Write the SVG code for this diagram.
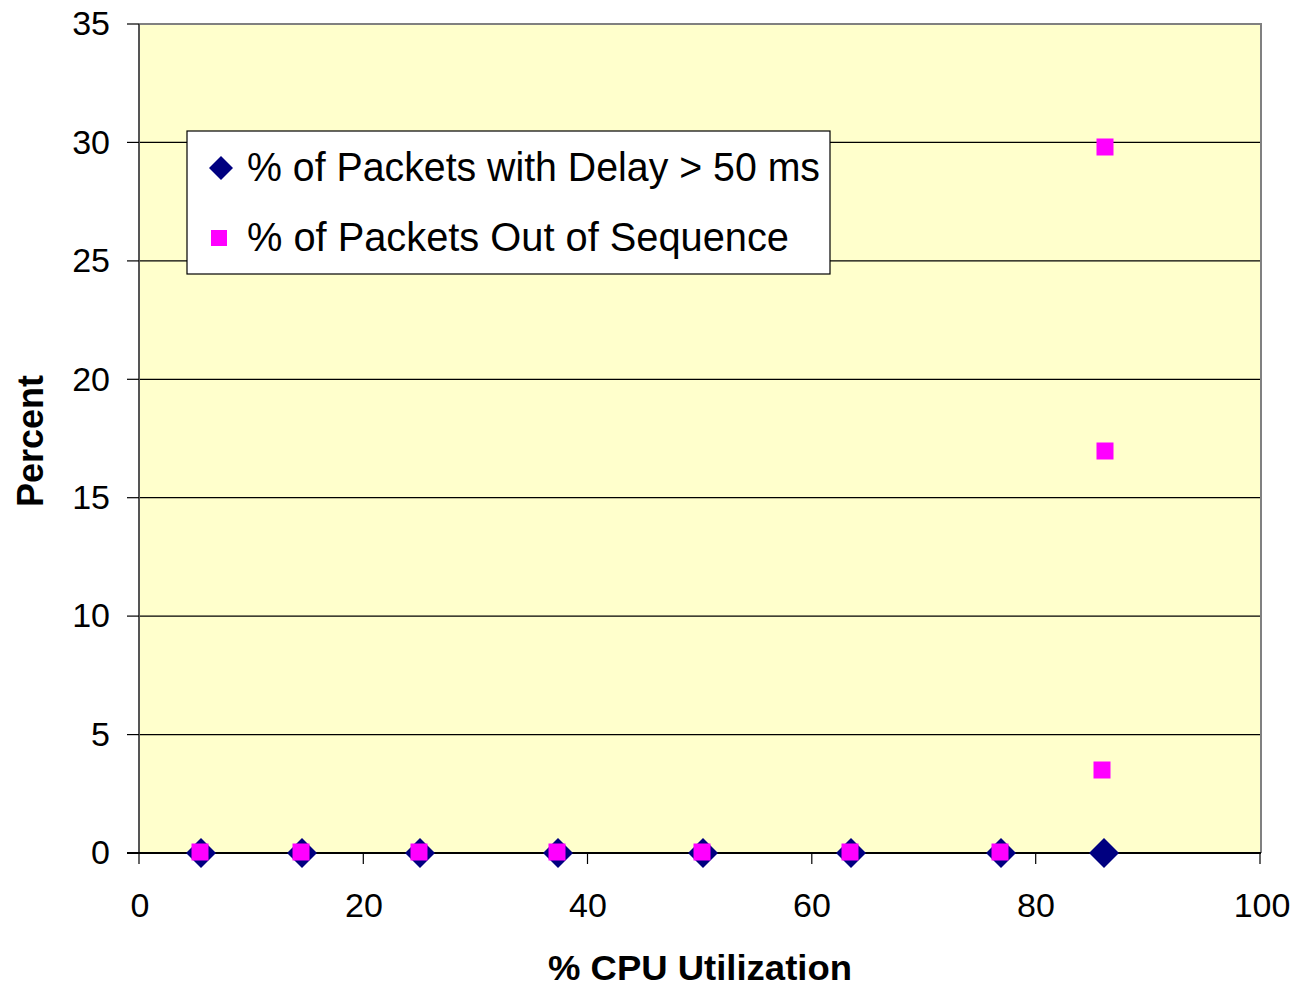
<svg xmlns="http://www.w3.org/2000/svg" width="1296" height="988" viewBox="0 0 1296 988">
  <style>
    .tick { font-family: "Liberation Sans", Arial, sans-serif; font-size: 34px; fill: #000; }
    .title { font-family: "Liberation Sans", Arial, sans-serif; font-size: 36px; font-weight: bold; fill: #000; }
    .xtitle { font-size: 35px; }
    .legtext { font-family: "Liberation Sans", Arial, sans-serif; font-size: 40px; fill: #000; }
    .grid { stroke: #000; stroke-width: 1.2; }
    .tk { stroke: #000; stroke-width: 1.2; }
    .dia { fill: #000080; }
    .sq { fill: #FF00FF; }
  </style>
  <defs>
    <path id="diamond" d="M0,-15 L15,0 L0,15 L-15,0 Z"/>
    <rect id="square" x="-8.5" y="-8.5" width="17" height="17"/>
  </defs>
  <rect width="1296" height="988" fill="#fff"/>

  <!-- plot area -->
  <g id="plot">
    <rect x="139" y="24" width="1122" height="829" fill="#FFFFCC"/>
    <g class="grid">
      <line x1="139" y1="142.4" x2="1261" y2="142.4"/>
      <line x1="139" y1="260.9" x2="1261" y2="260.9"/>
      <line x1="139" y1="379.3" x2="1261" y2="379.3"/>
      <line x1="139" y1="497.7" x2="1261" y2="497.7"/>
      <line x1="139" y1="616.1" x2="1261" y2="616.1"/>
      <line x1="139" y1="734.6" x2="1261" y2="734.6"/>
    </g>
    <!-- frame: top/right grey, left axis, bottom axis -->
    <polyline points="139,24 1261,24 1261,853" fill="none" stroke="#808080" stroke-width="2"/>
    <line x1="139" y1="24" x2="139" y2="853" stroke="#555" stroke-width="2"/>
    <line x1="127" y1="853" x2="1261" y2="853" stroke="#000" stroke-width="2"/>
  </g>

  <!-- axes ticks and labels -->
  <g id="y-axis">
    <g class="tk">
      <line x1="127" y1="24" x2="139" y2="24"/>
      <line x1="127" y1="142.4" x2="139" y2="142.4"/>
      <line x1="127" y1="260.9" x2="139" y2="260.9"/>
      <line x1="127" y1="379.3" x2="139" y2="379.3"/>
      <line x1="127" y1="497.7" x2="139" y2="497.7"/>
      <line x1="127" y1="616.1" x2="139" y2="616.1"/>
      <line x1="127" y1="734.6" x2="139" y2="734.6"/>
    </g>
    <g class="tick" text-anchor="end">
      <text x="110" y="35">35</text>
      <text x="110" y="154">30</text>
      <text x="110" y="272">25</text>
      <text x="110" y="391">20</text>
      <text x="110" y="509">15</text>
      <text x="110" y="627">10</text>
      <text x="110" y="746">5</text>
      <text x="110" y="864">0</text>
    </g>
    <text class="title" transform="translate(43,441) rotate(-90)" text-anchor="middle">Percent</text>
  </g>

  <g id="x-axis">
    <g class="tk">
      <line x1="139" y1="853" x2="139" y2="864"/>
      <line x1="363.3" y1="853" x2="363.3" y2="864"/>
      <line x1="587.5" y1="853" x2="587.5" y2="864"/>
      <line x1="811.8" y1="853" x2="811.8" y2="864"/>
      <line x1="1035.7" y1="853" x2="1035.7" y2="864"/>
      <line x1="1260" y1="853" x2="1260" y2="864"/>
    </g>
    <g class="tick" text-anchor="middle">
      <text x="140" y="917">0</text>
      <text x="364" y="917">20</text>
      <text x="588" y="917">40</text>
      <text x="812" y="917">60</text>
      <text x="1036" y="917">80</text>
      <text x="1262" y="917">100</text>
    </g>
    <text class="title xtitle" x="548" y="980" textLength="304" lengthAdjust="spacingAndGlyphs">% CPU Utilization</text>
  </g>

  <!-- series: packets with delay > 50 ms -->
  <g id="series-delay" class="dia">
    <use href="#diamond" x="201" y="853"/>
    <use href="#diamond" x="302" y="853"/>
    <use href="#diamond" x="420" y="853"/>
    <use href="#diamond" x="558" y="853"/>
    <use href="#diamond" x="703" y="853"/>
    <use href="#diamond" x="851" y="853"/>
    <use href="#diamond" x="1001" y="853"/>
    <use href="#diamond" x="1104" y="853"/>
  </g>

  <!-- series: packets out of sequence -->
  <g id="series-sequence" class="sq">
    <use href="#square" x="200" y="852"/>
    <use href="#square" x="301" y="852"/>
    <use href="#square" x="419" y="852"/>
    <use href="#square" x="557" y="852"/>
    <use href="#square" x="702" y="852"/>
    <use href="#square" x="850" y="852"/>
    <use href="#square" x="1000" y="852"/>
    <use href="#square" x="1102" y="770"/>
    <use href="#square" x="1105" y="451"/>
    <use href="#square" x="1105" y="147"/>
  </g>

  <!-- legend -->
  <g id="legend">
    <rect x="187" y="131" width="643" height="143" fill="#fff" stroke="#000" stroke-width="1.2"/>
    <path d="M221,156 L233,168 L221,180 L209,168 Z" class="dia"/>
    <rect x="211" y="230" width="16" height="16" class="sq"/>
    <text class="legtext" x="247" y="181" textLength="573" lengthAdjust="spacingAndGlyphs">% of Packets with Delay &gt; 50 ms</text>
    <text class="legtext" x="247" y="251" textLength="542" lengthAdjust="spacingAndGlyphs">% of Packets Out of Sequence</text>
  </g>
</svg>
